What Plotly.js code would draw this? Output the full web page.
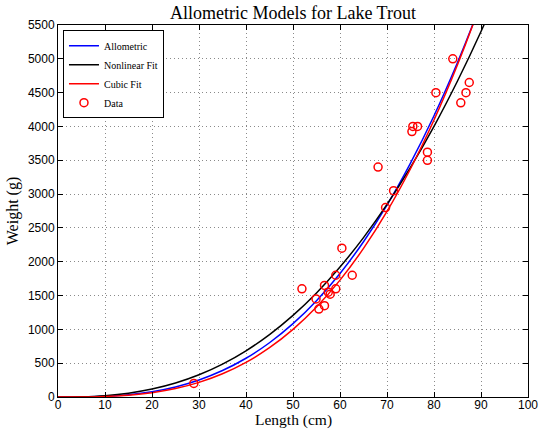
<!DOCTYPE html>
<html>
<head>
<meta charset="utf-8">
<script src="https://cdn.plot.ly/plotly-3.0.1.min.js"></script>
<style>
  html, body { margin: 0; padding: 0; background: #ffffff; }
  #chart { width: 539px; height: 430px; }
</style>
</head>
<body>
<div id="chart"></div>
<script>
var curveLength = [0, 5, 10, 15, 20, 25, 30, 35, 40, 45, 50, 55, 60, 65, 70, 75, 80, 85, 90, 95];
// Allometric model (blue), weight in g
var allometricWeight = [0, 1.5, 10.9, 34.7, 78.9, 149, 252, 391, 573, 802, 1084, 1424, 1826, 2296, 2838, 3458, 4158, 4946, 5824, 6799];
// Nonlinear fit (black), weight in g
var nonlinearWeight = [0, 3.4, 19.9, 56.0, 117, 206, 328, 486, 683, 923, 1207, 1539, 1922, 2357, 2847, 3395, 4002, 4672, 5404, 6203];
// Cubic fit (red), weight in g
var cubicWeight = [0, 1.0, 8.0, 27.0, 64.0, 125, 216, 343, 512, 729, 1000, 1331, 1728, 2197, 2744, 3375, 4096, 4913, 5832, 6859];

// Measured lake trout
var dataLength = [28.9, 51.9, 54.9, 55.5, 56.7, 56.7, 57.5, 57.9, 59.1, 59.1, 60.4, 62.6,
                  68.1, 69.7, 71.4, 75.3, 75.5, 76.5, 78.6, 78.6, 80.4, 84.0, 85.7, 86.8, 87.5];
var dataWeight = [200, 1600, 1450, 1300, 1650, 1350, 1550, 1520, 1800, 1600, 2200, 1800,
                  3400, 2800, 3050, 3925, 4000, 4000, 3620, 3500, 4500, 5000, 4350, 4500, 4650];

var xTicks = [0, 10, 20, 30, 40, 50, 60, 70, 80, 90, 100];
var yTicks = [0, 500, 1000, 1500, 2000, 2500, 3000, 3500, 4000, 4500, 5000, 5500];

var serif = "Liberation Serif, Times New Roman, serif";
var sans = "Liberation Sans, Arial, Helvetica, sans-serif";

var traces = [
  { x: curveLength, y: allometricWeight, type: 'scatter', mode: 'lines', name: 'Allometric',
    line: { color: '#0000ff', width: 1.5, shape: 'spline' } },
  { x: curveLength, y: nonlinearWeight, type: 'scatter', mode: 'lines', name: 'Nonlinear Fit',
    line: { color: '#000000', width: 1.5, shape: 'spline' } },
  { x: curveLength, y: cubicWeight, type: 'scatter', mode: 'lines', name: 'Cubic Fit',
    line: { color: '#ff0000', width: 1.5, shape: 'spline' } },
  { x: dataLength, y: dataWeight, type: 'scatter', mode: 'markers', name: 'Data',
    marker: { symbol: 'circle-open', size: 8, color: '#ff0000', line: { width: 1.5, color: '#ff0000' } } }
];

var axisCommon = {
  showline: true, linecolor: '#000000', linewidth: 1, mirror: 'ticks',
  ticks: 'inside', ticklen: 5, tickwidth: 1, tickcolor: '#000000',
  showgrid: true, gridcolor: '#8a8a8a', gridwidth: 1, griddash: '1px,3px',
  zeroline: false, tickfont: { family: sans, size: 12, color: '#000000' },
  automargin: false
};

var layout = {
  width: 539, height: 430,
  margin: { l: 58, r: 11, t: 25, b: 33 },
  paper_bgcolor: '#ffffff', plot_bgcolor: '#ffffff',
  title: { text: 'Allometric Models for Lake Trout', font: { family: serif, size: 18, color: '#000000' },
           xref: 'paper', x: 0.5, xanchor: 'center', yref: 'container', y: 0.97, yanchor: 'middle' },
  xaxis: Object.assign({}, axisCommon, {
    range: [0, 100], tickvals: xTicks, ticktext: xTicks.map(String), ticklabelstandoff: -3
  }),
  yaxis: Object.assign({}, axisCommon, {
    range: [0, 5500], tickvals: yTicks, ticktext: yTicks.map(String),
    title: { text: 'Weight (g)', font: { family: serif, size: 16, color: '#000000' }, standoff: 5 }
  }),
  annotations: [
    { text: 'Length (cm)', xref: 'paper', yref: 'paper', x: 0.5, y: -0.0887,
      xanchor: 'center', yanchor: 'bottom', showarrow: false, borderpad: 0,
      font: { family: serif, size: 15.5, color: '#000000' } }
  ],
  showlegend: true,
  legend: {
    x: 0.0106, y: 0.986, xanchor: 'left', yanchor: 'top',
    bgcolor: '#ffffff', bordercolor: '#000000', borderwidth: 1,
    font: { family: serif, size: 10, color: '#000000' },
    tracegroupgap: 0
  }
};

Plotly.newPlot('chart', traces, layout, { displayModeBar: false, staticPlot: true });
</script>
</body>
</html>
